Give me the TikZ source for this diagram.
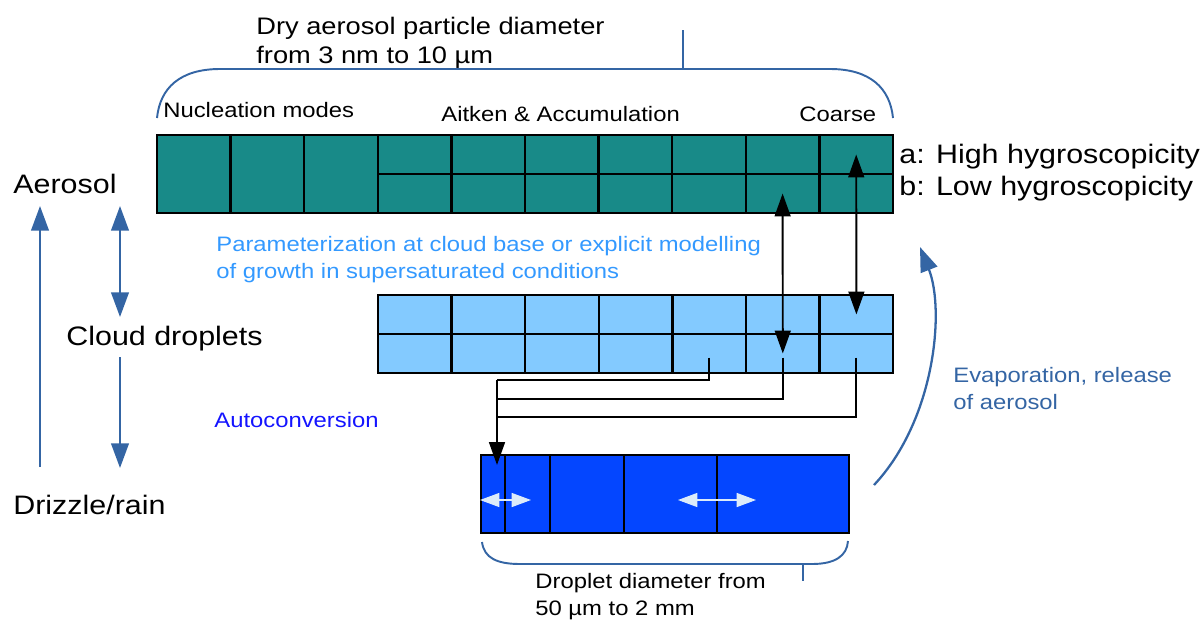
\documentclass[tikz,border=0pt]{standalone}
\usepackage{fontspec}
\setmainfont{Liberation Sans}[FakeStretch=1.14]
\usepackage{xcolor}
\usepackage{tikz}
\usetikzlibrary{arrows.meta, positioning, calc}

\definecolor{aerteal}{RGB}{24,138,136}
\definecolor{cldblue}{RGB}{131,202,255}
\definecolor{drzblue}{RGB}{4,70,255}
\definecolor{steel}{RGB}{52,101,164}
\definecolor{paramblue}{RGB}{51,153,255}
\definecolor{autoblue}{RGB}{20,20,255}
\definecolor{paleblue}{RGB}{220,235,250}

\newcommand{\txtS}{\fontsize{11.9pt}{15.1pt}\selectfont}
\newcommand{\txtM}{\fontsize{13.6pt}{16pt}\selectfont}
\newcommand{\txtL}{\fontsize{15.2pt}{18pt}\selectfont}

\begin{document}
\begin{tikzpicture}[
		x=0.02cm, y=-0.02cm,
		cell/.style={draw, line width=1.3pt, inner sep=0pt, outer sep=0pt, minimum width=1.472cm},
		aer/.style={cell, fill=aerteal},
		cld/.style={cell, fill=cldblue, minimum height=0.78cm},
		drz/.style={cell, fill=drzblue, minimum height=1.56cm},
		lbl/.style={inner sep=0pt, anchor=base west, align=left},
		conn/.style={line width=1.1pt},
		blk/.style={-{Triangle[length=13pt, width=9pt]}},
		dblk/.style={{Triangle[length=13pt, width=9pt]}-{Triangle[length=13pt, width=9pt]}},
		bluearr/.style={steel, line width=1.3pt},
		brace/.style={steel, line width=1.1pt},
		wht/.style={paleblue, line width=0.6pt, {Triangle[length=11pt, width=8pt]}-{Triangle[length=11pt, width=8pt]}},
		>={Triangle[length=14pt, width=10pt]}
		]
		\useasboundingbox (0,0) rectangle (1202,619);
		
		% Aerosol bins: 3 nucleation bins, then a/b split
		\foreach \i in {1,2,3}
			\node[aer, minimum height=1.56cm] (aer-\i) at ({157+73.6*(\i-0.5)},174) {};
		\foreach \i in {4,...,10} {
			\node[aer, minimum height=0.78cm] (aer-a-\i) at ({157+73.6*(\i-0.5)},154.5) {};
			\node[aer, minimum height=0.78cm] (aer-b-\i) at ({157+73.6*(\i-0.5)},193.5) {};
		}
		
		% Cloud droplet bins
		\foreach \j in {1,...,7} {
			\node[cld] (cld-a-\j) at ({378+73.6*(\j-0.5)},314.5) {};
			\node[cld] (cld-b-\j) at ({378+73.6*(\j-0.5)},353.5) {};
		}
		
		% Drizzle bins, widening
		\foreach \l/\r [count=\k] in {481/505, 505/550, 550/624, 624/717, 717/849} {
			\pgfmathsetmacro\w{(\r-\l)*0.02}
			\node[drz, minimum width=\w cm] (drz-\k) at ({(\l+\r)/2},494) {};
		}
		
		% Labels (multi-line ones sit on their last baseline)
		\node[lbl, font=\txtM] (drysize) at (256,63) {Dry aerosol particle diameter\\from 3 nm to 10 µm};
		\node[lbl, font=\txtS] (nucl) at (163,117) {Nucleation modes};
		\node[lbl, font=\txtS] (aitk) at (441,121) {Aitken \& Accumulation};
		\node[lbl, font=\txtS] (coarse) at (799,121) {Coarse};
		\node[lbl, font=\txtL] (hyga) at (899,163) {a: High hygroscopicity};
		\node[lbl, font=\txtL] (hygb) at (899,195) {b: Low hygroscopicity};
		\node[lbl, font=\txtL] (aerosol) at (13,193) {Aerosol};
		\node[lbl, font=\txtL] (cloud) at (66,345) {Cloud droplets};
		\node[lbl, font=\txtL] (drizzle) at (13,514) {Drizzle/rain};
		\node[lbl, font=\txtS, text=paramblue] (param) at (216,278.5) {Parameterization at cloud base or explicit modelling\\of growth in supersaturated conditions};
		\node[lbl, font=\txtS, text=autoblue] (autoconv) at (214,427) {Autoconversion};
		\node[lbl, font=\txtS, text=steel] (evap) at (953,409) {Evaporation, release\\of aerosol};
		\node[lbl, font=\txtS] (dropsize) at (535,615) {Droplet diameter from\\50 µm to 2 mm};
		
		% Size range braces
		\draw[brace] (157,118) .. controls (160,88) and (180,69) .. (220,69) -- (830,69) .. controls (870,69) and (890,88) .. (893,118);
		\draw[brace] (683,69) -- (683,30);
		\draw[brace] (482,542) .. controls (484,558) and (497,564) .. (520,564) -- (812,564) .. controls (835,564) and (847,556) .. (848,541);
		\draw[brace] (803,564) -- (803,581);
		
		% Activation / evaporation between aerosol and droplets
		\draw[conn, dblk] (aer-b-9.center) -- (cld-b-6.center);
		\draw[conn, dblk] (aer-a-10.center) -- (cld-a-7.center);
		
		% Autoconversion into first drizzle bin
		\coordinate (j1) at (497,380);
		\coordinate (j2) at (497,399);
		\coordinate (j3) at (497,417);
		\coordinate (drzin) at (497,465);
		\draw[conn] ([yshift=-0.08cm]cld-b-5.center) |- (j1);
		\draw[conn] ([yshift=-0.08cm]cld-b-6.center) |- (j2);
		\draw[conn] ([yshift=-0.08cm]cld-b-7.center) |- (j3);
		\draw[conn, blk] (j1) -- (drzin);
		
		% Collision between drizzle bins
		\draw[wht] ([shift={(-0.5cm,-0.12cm)}]drz-1.east) -- ([shift={(0.52cm,-0.12cm)}]drz-1.east);
		\draw[wht] ([shift={(-0.78cm,-0.12cm)}]drz-4.east) -- ([shift={(0.78cm,-0.12cm)}]drz-4.east);
		
		% Cycle on the left
		\coordinate (cyc-s) at (40,467);
		\coordinate (cyc-e) at (40,206);
		\coordinate (act-a) at (120,206);
		\coordinate (act-c) at (120,317);
		\coordinate (auto-s) at (120,357);
		\coordinate (auto-e) at (120,468);
		\draw[bluearr, ->] (cyc-s) -- (cyc-e);
		\draw[bluearr, <->] (act-a) -- (act-c);
		\draw[bluearr, ->] (auto-s) -- (auto-e);
		
		% Evaporation release
		\coordinate (evap-s) at (874,485);
		\coordinate (evap-e) at (920,247);
		\draw[bluearr, ->] (evap-s) .. controls (935,420) and (945,310) .. (evap-e);
	\end{tikzpicture}
\end{document}
